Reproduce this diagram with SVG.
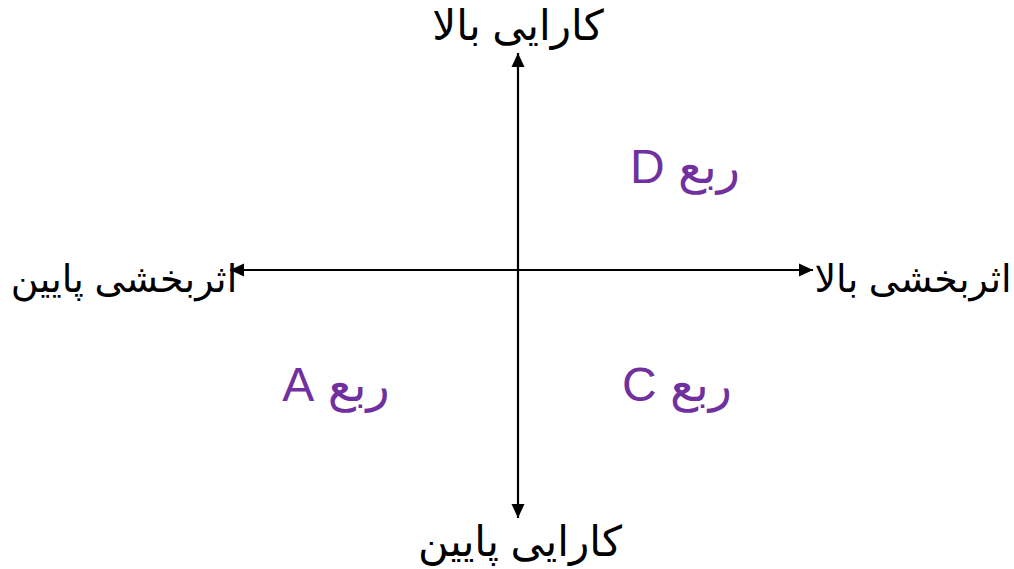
<svg xmlns="http://www.w3.org/2000/svg" width="1014" height="569" viewBox="0 0 1014 569">
<style>
.lbl{font-family:"Liberation Sans","DejaVu Sans","Noto Sans",sans-serif;font-size:42px;fill:#000;text-anchor:middle}
.side{font-size:38px}
.q{font-family:"Liberation Sans","DejaVu Sans","Noto Sans",sans-serif;font-size:48px;fill:#7030A0;text-anchor:middle}
.ax{stroke:#000;stroke-width:2.2;fill:none}
</style>
<defs>
<marker id="ah" viewBox="0 0 14 14" refX="14" refY="7" markerWidth="14" markerHeight="14" markerUnits="userSpaceOnUse" orient="auto-start-reverse">
<path d="M0,0.5 L14,7 L0,13.5 z" fill="#000"/>
</marker>
</defs>
<rect width="1014" height="569" fill="#fff"/>
<g id="connectors">
<line class="ax" x1="518" y1="53" x2="518" y2="518" marker-start="url(#ah)" marker-end="url(#ah)"/>
<line class="ax" x1="230" y1="270" x2="813" y2="270" marker-start="url(#ah)" marker-end="url(#ah)"/>
</g>
<g id="top"><text class="lbl" x="518" y="40" direction="rtl">کارایی بالا</text></g>
<g id="bottom"><text class="lbl" x="520" y="556" direction="rtl">کارایی پایین</text></g>
<g id="left"><text class="lbl side" x="124" y="292" direction="rtl">اثربخشی پایین</text></g>
<g id="right"><text class="lbl side" x="913" y="292" direction="rtl">اثربخشی بالا</text></g>
<g id="qD"><text class="q" x="685" y="183" direction="rtl">ربع D</text></g>
<g id="qA"><text class="q" x="336" y="401" direction="rtl">ربع A</text></g>
<g id="qC"><text class="q" x="677" y="401" direction="rtl">ربع C</text></g>
</svg>
